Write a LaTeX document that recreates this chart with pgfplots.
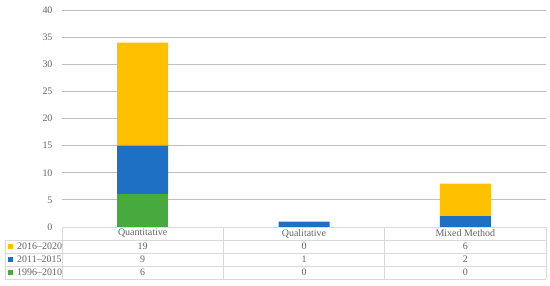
\documentclass[border=0pt]{standalone}
\usepackage{pgfplots}
\pgfplotsset{compat=1.18}
\usepackage{fontspec}
\setmainfont{Liberation Serif}
\definecolor{cyel}{RGB}{255,192,0}
\definecolor{cblu}{RGB}{30,112,196}
\definecolor{cgrn}{RGB}{70,170,62}
\definecolor{grid}{RGB}{217,217,217}
\definecolor{txt}{RGB}{100,100,100}
\begin{document}
\begin{tikzpicture}[x=1bp,y=1bp]
\begin{axis}[
  at={(0,0)}, anchor=south west,
  scale only axis, width=484bp, height=217bp,
  xmin=-0.5, xmax=2.5, ymin=0, ymax=40,
  ybar stacked, bar width=51bp,
  xtick=\empty, ytick={0,5,...,40},
  ymajorgrids, grid style={grid, line width=0.8pt},
  axis line style={draw=none},
  major tick length=0pt,
  tick label style={font=\fontsize{10}{12}\selectfont, text=txt},
  yticklabel style={xshift=-6bp},
  /pgf/number format/assume math mode=true,
  clip=false,
]
\addplot[fill=cgrn, draw=none] coordinates {(0,6) (1,0) (2,0)};
\addplot[fill=cblu, draw=none] coordinates {(0,9) (1,1) (2,2)};
\addplot[fill=cyel, draw=none] coordinates {(0,19) (1,0) (2,6)};
\end{axis}
% data table
\begin{scope}[grid, line width=0.8pt]
  \draw (0,0) -- (484,0);
  \foreach \y in {-13,-26,-39,-52} \draw (-57,\y) -- (484,\y);
  \draw (0,0) -- (0,-52);
  \draw (161.33,0) -- (161.33,-52);
  \draw (322.67,0) -- (322.67,-52);
  \draw (484,0) -- (484,-52);
  \draw (-57,-13) -- (-57,-52);
\end{scope}
\begin{scope}[every node/.style={font=\fontsize{10}{12}\selectfont, text=txt, inner sep=0pt}]
  \node at (80.67,-6.5) {Quantitative};
  \node at (242,-6.5) {Qualitative};
  \node at (403.33,-6.5) {Mixed Method};
  % rows
  \node at (80.67,-19.5) {19}; \node at (242,-19.5) {0}; \node at (403.33,-19.5) {6};
  \node at (80.67,-32.5) {9};  \node at (242,-32.5) {1}; \node at (403.33,-32.5) {2};
  \node at (80.67,-45.5) {6};  \node at (242,-45.5) {0}; \node at (403.33,-45.5) {0};
  \node[anchor=west] at (-45,-19.5) {2016–2020};
  \node[anchor=west] at (-45,-32.5) {2011–2015};
  \node[anchor=west] at (-45,-45.5) {1996–2010};
\end{scope}
\fill[cyel] (-54,-22) rectangle (-48.5,-16.5);
\fill[cblu] (-54,-35) rectangle (-48.5,-29.5);
\fill[cgrn] (-54,-48) rectangle (-48.5,-42.5);
\path[use as bounding box] (-62,-58) rectangle (488,227);
\end{tikzpicture}
\end{document}
